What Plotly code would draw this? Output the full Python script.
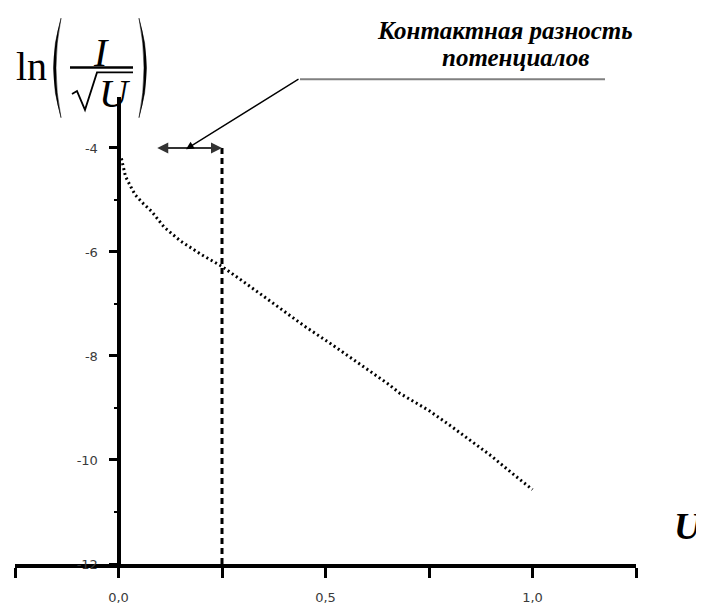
import plotly.graph_objects as go

# ---- data ----
U_values = [0.007, 0.017, 0.03, 0.04, 0.06, 0.08, 0.11, 0.15, 0.20, 0.25, 0.30, 0.35,
            0.40, 0.45, 0.51, 0.55, 0.60, 0.65, 0.68, 0.75, 0.80, 0.85, 0.90, 0.95, 1.00]
ln_values = [-4.2, -4.55, -4.75, -4.9, -5.07, -5.22, -5.52, -5.79, -6.05, -6.28, -6.56, -6.85,
             -7.15, -7.43, -7.75, -7.97, -8.25, -8.53, -8.72, -9.05, -9.33, -9.62, -9.92, -10.25, -10.57]

contact_potential = 0.25
contact_level = -4.0
arrow_left_U = 0.09

x_tick_vals = [-0.25, 0.0, 0.25, 0.5, 0.75, 1.0, 1.25]
x_tick_text = ["", "0,0", "", "0,5", "", "1,0", ""]
y_tick_vals = [-12, -10, -8, -6, -4]
y_tick_text = ["-12", "-10", "-8", "-6", "-4"]

x_range = [-0.25, 1.25]
y_range = [-12, -3.02]

# page geometry (the html body has an 8px default margin)
OFF = 8
PAGE_W, PAGE_H = 704, 612
PLOT_L, PLOT_R, PLOT_T, PLOT_B = 15, 636, 97, 571
W, H = PAGE_W - OFF, PAGE_H - OFF
ML, MT = PLOT_L - OFF, PLOT_T - OFF
MR, MB = PAGE_W - PLOT_R, PAGE_H - PLOT_B
PW, PH = PLOT_R - PLOT_L, PLOT_B - PLOT_T


def pxx(x):
    return (x - PLOT_L) / PW


def pxy(y):
    return (PLOT_B - y) / PH


fig = go.Figure()
fig.add_trace(go.Scatter(
    x=U_values, y=ln_values, mode="lines",
    line=dict(color="black", width=3, dash="2px,3px"),
    hoverinfo="skip", showlegend=False,
))

yaxis_pos = (0 - x_range[0]) / (x_range[1] - x_range[0])

tick_font = dict(family="DejaVu Sans", size=13, color="#3a3a3a")

fig.update_layout(
    width=W, height=H,
    margin=dict(l=ML, r=MR, t=MT, b=MB, pad=0),
    paper_bgcolor="white", plot_bgcolor="white",
    showlegend=False,
    xaxis=dict(
        range=x_range, showgrid=False, zeroline=False,
        showline=True, linecolor="black", linewidth=4,
        tickmode="array", tickvals=x_tick_vals, ticktext=x_tick_text,
        ticks="outside", ticklen=10, tickwidth=3, tickcolor="black",
        tickfont=tick_font, ticklabelstandoff=8,
    ),
    yaxis=dict(
        range=y_range, showgrid=False, zeroline=False,
        anchor="free", position=yaxis_pos,
        showline=True, linecolor="black", linewidth=4,
        tickmode="array", tickvals=y_tick_vals, ticktext=y_tick_text,
        ticks="outside", ticklen=8, tickwidth=2.5, tickcolor="black",
        tickfont=tick_font, ticklabelstandoff=8,
        minor=dict(dtick=1, tick0=-12, ticks="outside", ticklen=3, tickwidth=2,
                   tickcolor="black", showgrid=False),
    ),
)

shapes = []
# dashed vertical line at the contact potential
shapes.append(dict(type="line", xref="x", yref="y",
                   x0=contact_potential, x1=contact_potential,
                   y0=y_range[0], y1=contact_level,
                   line=dict(color="black", width=3, dash="6px,4px")))
# gray leader shelf
shapes.append(dict(type="line", xref="paper", yref="paper",
                   x0=pxx(300), x1=pxx(605), y0=pxy(79), y1=pxy(79),
                   line=dict(color="#808080", width=2)))


def path(points):
    return "M " + " L ".join(f"{pxx(a):.5f},{pxy(b):.5f}" for a, b in points)


def paren(x_end, x_bulge, x_inner, y0, y1):
    ym = (y0 + y1) / 2
    return (f"M {pxx(x_end):.5f},{pxy(y0):.5f} "
            f"Q {pxx(x_bulge):.5f},{pxy(ym):.5f} {pxx(x_end):.5f},{pxy(y1):.5f} "
            f"Q {pxx(x_inner):.5f},{pxy(ym):.5f} {pxx(x_end):.5f},{pxy(y0):.5f} Z")


# parentheses of the formula
shapes.append(dict(type="path", xref="paper", yref="paper",
                   path=paren(61, 46, 51, 17, 118), fillcolor="black",
                   line=dict(color="black", width=0.5)))
shapes.append(dict(type="path", xref="paper", yref="paper",
                   path=paren(139, 154, 149, 17, 118), fillcolor="black",
                   line=dict(color="black", width=0.5)))
# fraction bar
shapes.append(dict(type="line", xref="paper", yref="paper",
                   x0=pxx(70), x1=pxx(133), y0=pxy(67), y1=pxy(67),
                   line=dict(color="black", width=2.5)))
# radical sign
shapes.append(dict(type="path", xref="paper", yref="paper",
                   path=path([(72, 94), (77, 91), (85, 110), (97, 72), (133, 72)]),
                   line=dict(color="black", width=1.8)))
fig.update_layout(shapes=shapes)

serif = "Liberation Serif, Times New Roman, serif"
annotations = []


def txt(text, x, y, size, xanchor="center"):
    annotations.append(dict(
        text=text, x=pxx(x), y=pxy(y), xref="paper", yref="paper",
        xanchor=xanchor, yanchor="middle", showarrow=False,
        font=dict(family=serif, size=size, color="black"),
    ))


txt("ln", 14, 66, 40, xanchor="left")
txt("<i>I</i>", 101, 52, 40)
txt("<i>U</i>", 115, 93, 40)
txt("<b><i>Контактная разность</i></b>", 505, 29, 25)
txt("<b><i>потенциалов</i></b>", 515, 57, 25)
txt("<b><i>U</i></b>", 688, 533, 37)

# double arrow showing the contact potential difference
annotations.append(dict(
    x=contact_potential, y=contact_level, ax=arrow_left_U, ay=contact_level,
    xref="x", yref="y", axref="x", ayref="y", text="", showarrow=True,
    arrowside="end+start", arrowhead=2, startarrowhead=2,
    arrowsize=1.1, startarrowsize=1.1, arrowwidth=2, arrowcolor="#333",
))
# leader arrow from the caption
annotations.append(dict(
    x=pxx(186), y=pxy(150), xref="paper", yref="paper",
    ax=300 - 186, ay=79 - 150, text="", showarrow=True,
    arrowhead=2, arrowsize=1.2, arrowwidth=1.3, arrowcolor="black",
))
fig.update_layout(annotations=annotations)

fig.write_html("out.html")
